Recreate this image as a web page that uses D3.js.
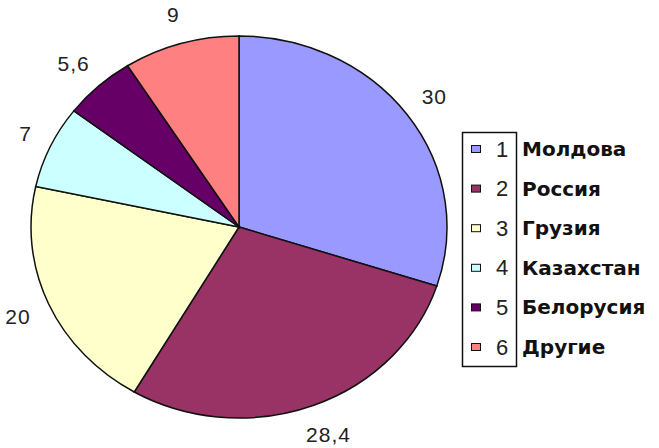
<!DOCTYPE html>
<html>
<head>
<meta charset="utf-8">
<script src="https://cdn.jsdelivr.net/npm/d3@7"></script>
<style>
  body { margin: 0; background: #fff; }
</style>
</head>
<body>
<div id="chart"></div>
<script>
var countries = ['Молдова', 'Россия', 'Грузия', 'Казахстан', 'Белорусия', 'Другие'];
var shares = [30, 28.4, 20, 7, 5.6, 9];
var valueLabels = ['30', '28,4', '20', '7', '5,6', '9'];
var colors = ['#9999ff', '#993366', '#ffffcc', '#ccffff', '#660066', '#ff8080'];

var width = 659, height = 448;
var cx = 239, cy = 227, rx = 208, ry = 191;

var svg = d3.select('#chart')
    .append('svg')
    .attr('width', width)
    .attr('height', height);

var data = shares.map((v, i) => ({ name: countries[i], value: v, label: valueLabels[i], idx: i }));

var pie = d3.pie()
    .sort(null)
    .value(d => d.value);

var arc = d3.arc()
    .innerRadius(0)
    .outerRadius(rx);

var arcs = pie(data);

var g = svg.append('g')
    .attr('transform', 'translate(' + cx + ',' + cy + ') scale(1,' + (ry / rx) + ')');

g.selectAll('path')
    .data(arcs)
    .enter()
    .append('path')
    .attr('d', arc)
    .attr('fill', (d, i) => colors[i])
    .attr('stroke', '#111')
    .attr('stroke-width', 1.5)
    .attr('vector-effect', 'non-scaling-stroke');

// value labels outside the pie
var k = 1.1;
svg.selectAll('text.val')
    .data(arcs)
    .enter()
    .append('text')
    .attr('class', 'val')
    .attr('font-family', '"Liberation Sans", Arial, sans-serif')
    .attr('font-size', 21)
    .attr('letter-spacing', 1)
    .attr('fill', '#222')
    .attr('text-anchor', 'middle')
    .attr('dominant-baseline', 'central')
    .text(d => d.data.label)
    .each(function(d) {
        var a = (d.startAngle + d.endAngle) / 2;
        var s = Math.sin(a), c = Math.cos(a);
        var bb = this.getBBox();
        var x = cx + s * rx * k + s * bb.width / 2;
        var y = cy - c * ry * k - c * bb.height / 2;
        d3.select(this).attr('x', x).attr('y', y);
    });

// legend
var lx = 462, ly = 132, lw = 54, lh = 234;
var rowY = d3.scalePoint()
    .domain(d3.range(countries.length))
    .range([149, 347]);

svg.append('rect')
    .attr('x', lx + 0.5)
    .attr('y', ly + 0.5)
    .attr('width', lw)
    .attr('height', lh)
    .attr('fill', 'none')
    .attr('stroke', '#111')
    .attr('stroke-width', 1.5);

var rows = svg.selectAll('g.row')
    .data(data)
    .enter()
    .append('g')
    .attr('class', 'row')
    .attr('transform', d => 'translate(0,' + rowY(d.idx) + ')');

rows.append('rect')
    .attr('x', 471.5)
    .attr('y', -3.5)
    .attr('width', 9)
    .attr('height', 7)
    .attr('fill', d => colors[d.idx])
    .attr('stroke', '#111')
    .attr('stroke-width', 1);

rows.append('text')
    .attr('x', 496)
    .attr('y', 0)
    .attr('dominant-baseline', 'central')
    .attr('font-family', '"Liberation Sans", Arial, sans-serif')
    .attr('font-size', 22)
    .attr('fill', '#222')
    .text(d => d.idx + 1);

rows.append('text')
    .attr('x', 522)
    .attr('y', 0)
    .attr('dominant-baseline', 'central')
    .attr('font-family', '"DejaVu Sans", Verdana, sans-serif')
    .attr('font-weight', 'bold')
    .attr('font-size', 20)
    .attr('fill', '#111')
    .text(d => d.name);
</script>
</body>
</html>
